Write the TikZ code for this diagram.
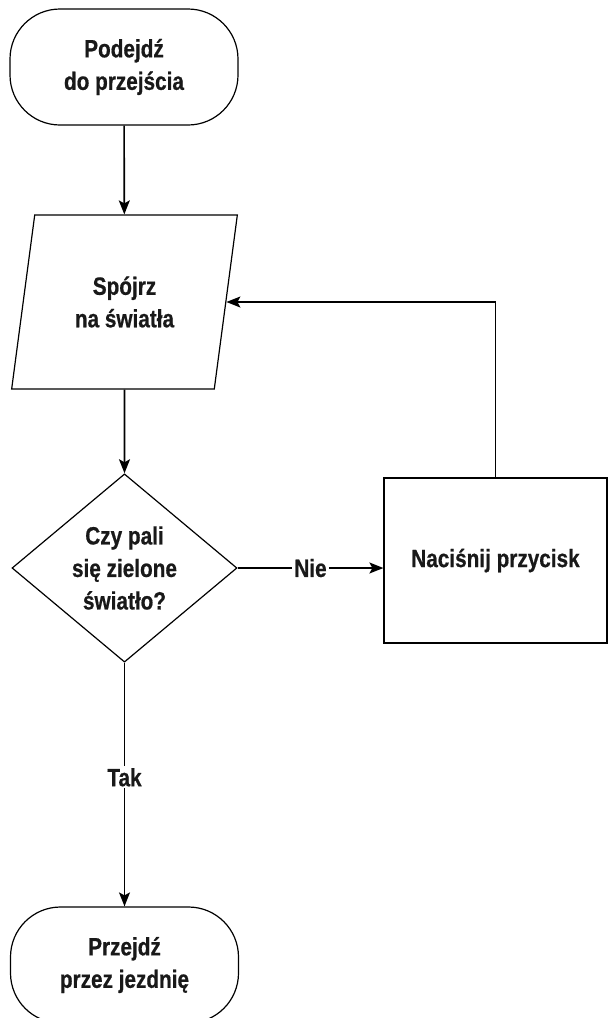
\documentclass[tikz,border=0pt]{standalone}
\usepackage{fontspec}
\setmainfont{Liberation Sans}
\newfontfamily\condfont[FakeStretch=0.83,FakeBold=0.6]{Liberation Sans Bold}
\usetikzlibrary{shapes.geometric,arrows.meta}
\begin{document}
\begin{tikzpicture}[x=1pt,y=-1pt,
  every node/.style={font=\condfont\fontsize{25}{32.5}\selectfont,text=black!90,align=center},
  term/.style={draw,line width=1.2pt,rectangle,rounded corners=50pt,minimum width=228pt,minimum height=116pt,inner sep=0pt},
  para/.style={draw,line width=1.2pt,trapezium,trapezium left angle=76,trapezium right angle=104,trapezium stretches=true,minimum width=226pt,minimum height=174pt,inner sep=0pt},
  dec/.style={draw,line width=1.2pt,diamond,minimum width=225pt,minimum height=170pt,inner sep=0pt},
  proc/.style={draw,line width=1.2pt,rectangle,minimum width=223pt,minimum height=165pt,inner sep=0pt},
  arr/.style={line width=1.6pt,-{Stealth[length=14pt,width=11pt,inset=3pt]}},
  lbl/.style={fill=white,inner sep=2pt}]
\clip (0,0) rectangle (608,1018);
\fill[white] (0,0) rectangle (608,1018);
\node[term] (start) at (124,67) {Podejdź\\do przejścia};
\node[para] (look) at (124.5,302) {Spójrz\\na światła};
\node[dec] (dec) at (124.5,568) {Czy pali\\się zielone\\światło?};
\node[proc] (box) at (495.5,560.5) {\raisebox{-8pt}{Naciśnij przycisk}};
\node[term] (stop) at (124.5,965) {Przejdź\\przez jezdnię};
\draw[arr] (start) -- (look);
\draw[arr] (look) -- (dec);
\draw[arr] (dec.east) -- node[lbl] (nie) {Nie} (dec.east -| box.west);
\draw[arr] (box.north) |- (look.east);
\draw[arr] (dec) -- node[lbl,pos=0.47] (tak) {Tak} (stop);
\end{tikzpicture}
\end{document}
